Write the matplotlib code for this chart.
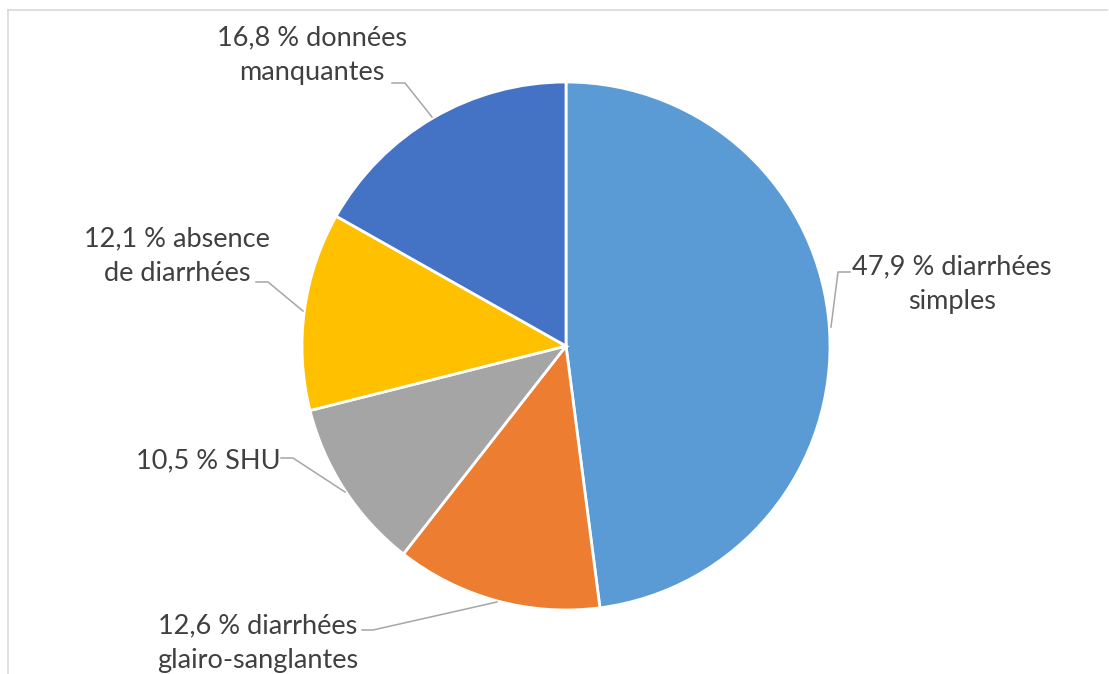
import matplotlib
matplotlib.use("Agg")
import matplotlib.pyplot as plt

# Data
categories = ["diarrhées\nsimples", "diarrhées\nglairo-sanglantes", "SHU",
              "absence\nde diarrhées", "données\nmanquantes"]
values = [47.9, 12.6, 10.5, 12.1, 16.8]
colors = ["#5B9BD5", "#ED7D31", "#A5A5A5", "#FFC000", "#4472C4"]
label_texts = ["47,9 % diarrhées\nsimples",
               "12,6 % diarrhées\nglairo-sanglantes",
               "10,5 % SHU",
               "12,1 % absence\nde diarrhées",
               "16,8 % données\nmanquantes"]

W, H = 1109, 674
fig = plt.figure(figsize=(W / 100, H / 100), dpi=100)
ax = fig.add_axes([0, 0, 1, 1])

def py(y):
    # pixel row (from top) -> data y
    return H - y

# frame lines (top / left)
ax.plot([8, 1107], [py(10), py(10)], color="#D9D9D9", lw=1.2)
ax.plot([8, 8], [py(10), py(674)], color="#D9D9D9", lw=1.2)

ax.pie(values, colors=colors, startangle=90, counterclock=False,
       center=(566, py(346)), radius=264, frame=True,
       wedgeprops=dict(edgecolor="white", linewidth=2))
ax.set_xlim(0, W)
ax.set_ylim(0, H)
ax.set_aspect("equal")
ax.axis("off")

# label positions (pixels) and leader lines
label_pos = [(952, 284), (258, 643), (208, 461), (177, 256), (312, 55)]
leaders = [
    [(831, 327), (838, 272), (850, 272)],
    [(497, 602), (373, 630), (362, 630)],
    [(345, 492), (293, 458), (281, 458)],
    [(303, 311), (268, 282), (256, 282)],
    [(432, 117), (405, 83), (392, 83)],
]

for txt, (x, y) in zip(label_texts, label_pos):
    ax.text(x, py(y), txt, ha="center", va="center", fontsize=19.5,
            color="#404040", family="Lato", linespacing=1.48)

for pts in leaders:
    ax.plot([p[0] for p in pts], [py(p[1]) for p in pts],
            color="#A6A6A6", lw=1.1)

fig.savefig("out.png", dpi=100)
